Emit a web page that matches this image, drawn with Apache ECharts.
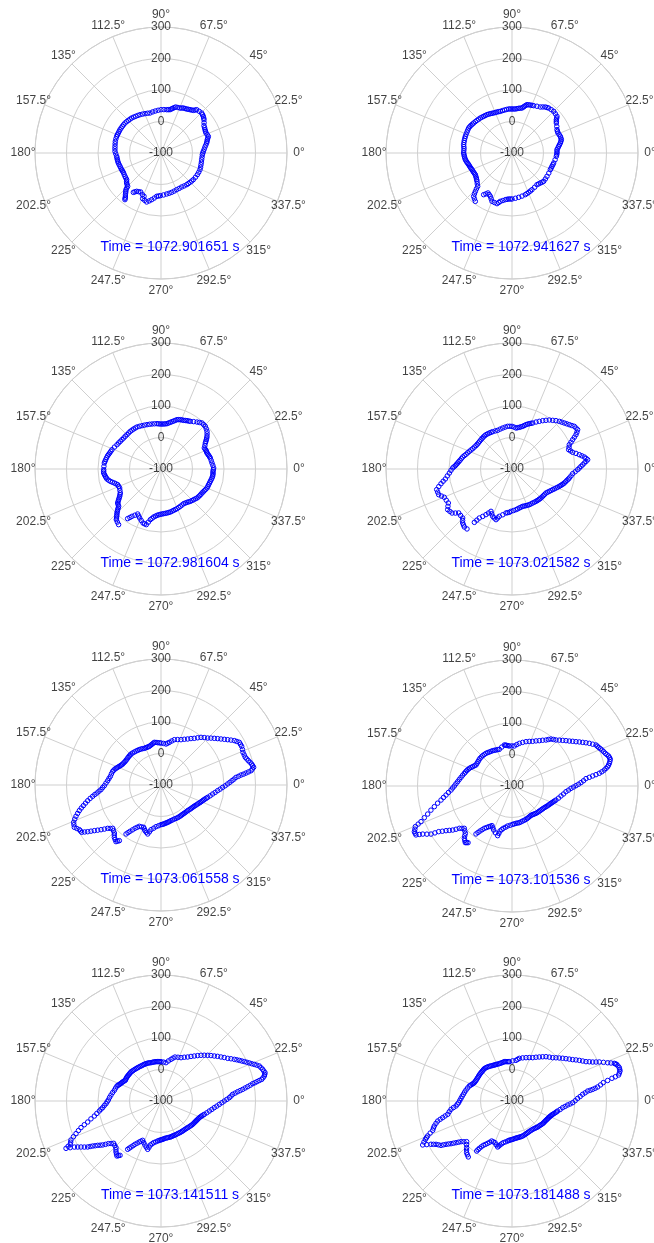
<!DOCTYPE html>
<html>
<head>
<meta charset="utf-8">
<script src="https://cdn.jsdelivr.net/npm/echarts@6/dist/echarts.min.js"></script>
<style>
html,body{margin:0;padding:0;background:#ffffff;}
#main{width:654px;height:1243px;}
</style>
</head>
<body>
<div id="main"></div>
<script>
// ---------- data ----------
const times = ['1072.901651','1072.941627','1072.981604','1073.021582','1073.061558','1073.101536','1073.141511','1073.181488'];
const angleTicks = [0,22.5,45,67.5,90,112.5,135,157.5,180,202.5,225,247.5,270,292.5,315,337.5];
const angleTickLabels = ['0°','22.5°','45°','67.5°','90°','112.5°','135°','157.5°','180°','202.5°','225°','247.5°','270°','292.5°','315°','337.5°'];
const radiusTicks = [-100,0,100,200,300];
const radiusTickLabels = ['-100','0','100','200','300'];

// each curve: [angle (deg), value]
const curve1 = [[234.9,52.7],[236.2,48.4],[237.6,44.1],[240,41.9],[242.5,39.6],[246,45],[248.6,47.7],[248.1,56.2],[251,59],[253.7,62],[256.2,56.6],[258.7,51.1],[261.5,44.6],[264.3,38.2],[266.7,36.8],[269.1,35.4],[273.5,33.4],[277.9,31.4],[281.5,30.4],[285.2,29.4],[289.1,28],[293.1,26.6],[297.2,26.4],[301.3,26.3],[305.1,27.8],[309,29.4],[311.8,30.1],[314.7,30.9],[317.6,32],[320.5,33],[324.8,33.7],[329.2,34.3],[333,34.5],[336.9,34.6],[340.3,33.5],[343.7,32.3],[347.2,31.5],[350.7,30.8],[354.2,31],[357.7,31.3],[0,32.9],[2.3,34.5],[5,37.7],[7.8,40.9],[10.1,44.6],[12.4,48.4],[14.2,50.7],[16.1,53],[17.7,56.1],[19.4,59.3],[21.7,57.8],[24,56.3],[26,57.2],[27.9,58.1],[30.1,59.9],[32.4,61.7],[35.1,67.2],[37.8,72.7],[39.3,75.2],[40.9,77.7],[42.7,79.3],[44.5,81],[47.5,79.5],[50.5,78.1],[51.6,74],[52.8,69.9],[54.5,67.7],[56.2,65.5],[58,63.6],[59.7,61.7],[61.6,60.5],[63.6,59.4],[65.3,57.2],[67.1,55],[69.7,54.1],[72.3,53.2],[73.8,49.8],[75.4,46.5],[76.8,43.5],[78.3,40.5],[80.4,39.6],[82.5,38.7],[86.2,38.1],[90,37.5],[93.8,36],[97.7,34.5],[101.5,33.1],[105.4,31.7],[108.7,33.2],[112.1,34.8],[115.4,36.7],[118.7,38.7],[121.6,40.1],[124.6,41.5],[127.3,43.2],[130,44.9],[132.5,45.7],[135,46.6],[137.6,47.6],[140.2,48.7],[142.8,48.9],[145.4,49.1],[147.9,49.4],[150.4,49.7],[152.6,49.6],[154.9,49.6],[157.1,50],[159.4,50.3],[162.5,50],[165.7,49.6],[168.7,48.5],[171.8,47.5],[174.8,46.8],[177.9,46.1],[181.1,43.6],[184.3,41.1],[186.5,40.6],[188.7,40.2],[191,39.6],[193.2,39.1],[195.6,37.9],[198,36.8],[200.5,36.2],[203,35.6],[205.1,35],[207.2,34.4],[210.1,35.3],[213,36.2],[215.4,37.1],[217.8,38],[219.4,41.3],[221.1,44.7],[223,47.1],[225,49.6],[225.6,55.2],[226.3,60.9],[227.4,65.1],[228.5,69.4],[229.7,74.6],[231,79.8],[231.6,83.4],[232.3,87.1]];
const curve2 = [[235.8,60],[237.4,54],[239,48],[241.2,50.8],[243.4,53.7],[245.5,59.8],[247.5,66],[250.5,66.8],[253.5,67.7],[255,62.7],[256.4,57.8],[259.1,53.7],[261.9,49.6],[263.9,48],[265.9,46.4],[268,46.2],[270,46],[274.3,44.1],[278.6,42.3],[283.1,40.5],[287.7,38.8],[290.3,37.2],[293,35.6],[295.8,34.1],[298.6,32.6],[303.4,30.3],[308.3,28],[310.8,29.5],[313.4,31],[315.8,33],[318.2,34.9],[322.2,34.2],[326.3,33.5],[331.4,33.1],[336.5,32.7],[339,33.2],[341.6,33.8],[344,34.9],[346.5,36],[351.1,38.5],[355.7,41.1],[357.8,42],[0,42.8],[2.1,43],[4.2,43.2],[6.1,46.4],[8.1,49.6],[9.9,53.1],[11.7,56.7],[13.4,59.5],[15.1,62.2],[17,62.3],[19,62.3],[21.2,60.7],[23.5,59.2],[25.4,60],[27.4,60.9],[30.7,65.4],[34.1,69.9],[35.5,73],[36.9,76],[38,80.1],[39.2,84.2],[42.1,85.6],[45,87.1],[47.9,85.6],[50.8,84.2],[52.4,82.2],[54.1,80.3],[56.2,75.9],[58.4,71.5],[61.9,68.3],[65.4,65.2],[67.2,64.1],[69.1,63],[71,61.8],[72.8,60.6],[74,56.9],[75.2,53.2],[76.3,49.7],[77.5,46.3],[79.5,44.8],[81.5,43.4],[83.6,41.7],[85.7,40.1],[87.8,39.9],[90,39.7],[92.1,39.9],[94.3,40.1],[97,39.3],[99.7,38.5],[102.6,37.9],[105.6,37.3],[107.8,37.9],[110.1,38.6],[112.3,39.1],[114.6,39.7],[116.7,41.1],[118.8,42.5],[121,43.9],[123.1,45.3],[125.4,46.2],[127.7,47.1],[129.9,48.4],[132.1,49.8],[134.5,50.8],[137,51.9],[139.5,53.2],[142,54.5],[144,55.7],[146,57],[148,57.9],[150,58.8],[152.5,58.2],[155,57.6],[157.7,57.5],[160.3,57.3],[162.7,56.9],[165.1,56.6],[167.6,56.1],[170.2,55.7],[172.5,54.3],[174.8,53],[177.4,53.2],[180,53.4],[182,52.5],[184,51.6],[186,50.6],[188.1,49.6],[189.9,47.7],[191.7,45.9],[193.4,44.1],[195.1,42.4],[197,41.1],[199,39.9],[200.8,38.7],[202.6,37.5],[204.7,36.9],[206.8,36.3],[208.7,35.7],[210.6,35.2],[212.8,36.7],[215,38.3],[217,40.6],[219,42.9],[221.6,47.4],[224.2,51.9],[225.2,60.1],[226.3,68.3],[227.4,76],[228.5,83.7],[230.6,88.1],[232.8,92.6]];
const curve3 = [[236.1,89.8],[237.3,83],[238.5,76.2],[240.5,68.5],[242.6,60.9],[244.5,65.2],[246.5,69.6],[249,75.1],[251.6,80.7],[253.4,81.7],[255.2,82.7],[256.6,73.5],[258.1,64.3],[259.7,59.2],[261.3,54.2],[263.2,50.9],[265.1,47.6],[267.1,45.7],[269.2,43.9],[271.3,42.9],[273.4,42],[275.6,41.4],[277.8,40.9],[280,40.3],[282.2,39.7],[284.6,38.4],[287,37.2],[289.5,36.4],[292,35.7],[294.7,34.5],[297.4,33.4],[300.3,32.4],[303.2,31.5],[305.6,32.8],[308,34.2],[310.1,36.4],[312.2,38.6],[314.5,40.4],[316.8,42.2],[319,44.4],[321.1,46.7],[323.2,47.9],[325.4,49.1],[327.5,50],[329.7,50.8],[331.5,52.3],[333.4,53.8],[335.5,55.9],[337.6,58],[339.7,58.6],[341.8,59.2],[343.9,60.3],[346,61.4],[348,62.9],[350,64.4],[351.9,65.2],[353.8,66],[355.6,65.6],[357.4,65.2],[359.2,66.2],[1.1,67.2],[3.9,65.1],[6.7,63],[9.6,61.7],[12.6,60.4],[14.3,58.9],[16,57.4],[17.6,56],[19.2,54.6],[20.8,54.6],[22.5,54.7],[24.2,53.8],[25.9,52.9],[28.1,58],[30.4,63.1],[31.6,67.2],[32.9,71.4],[34.1,75.2],[35.4,79.1],[37.3,83.9],[39.3,88.7],[41.6,92],[43.9,95.3],[46.1,95.4],[48.3,95.6],[50.4,91.7],[52.5,87.9],[55.4,82.7],[58.4,77.6],[60,75.9],[61.7,74.2],[63.3,72.3],[65,70.4],[66.8,69.3],[68.6,68.2],[70.3,66.4],[72,64.6],[73.6,61],[75.2,57.5],[76.9,54.3],[78.7,51.1],[80.6,48.1],[82.5,45.2],[84.5,44.1],[86.6,43.1],[88.7,42.9],[90.8,42.8],[92.9,43.6],[95,44.4],[98.1,45],[101.3,45.7],[104.4,46.6],[107.5,47.6],[110.6,48.9],[113.7,50.2],[116.7,51.8],[119.7,53.5],[122,53.6],[124.3,53.8],[126.7,54],[129.2,54.2],[131.9,53.8],[134.7,53.4],[137.5,53.7],[140.3,54],[143,55.1],[145.8,56.2],[148.4,57.9],[151.1,59.6],[154.8,63.4],[158.5,67.2],[160.6,68.9],[162.7,70.7],[164.3,72.6],[166,74.5],[168.2,76.3],[170.4,78.1],[172.2,79.5],[174,80.9],[177.3,81.4],[180.7,82],[182.3,82.2],[184,82.4],[185.7,80.3],[187.5,78.2],[189,76.3],[190.5,74.4],[192.1,70],[193.7,65.5],[195.2,60.1],[196.7,54.7],[198.3,50.4],[199.9,46.2],[202.3,45.3],[204.7,44.4],[207.6,47.1],[210.5,49.9],[212,53.6],[213.5,57.3],[214.7,61.6],[215.9,65.9],[217,70.3],[218.1,74.8],[219.7,77],[221.4,79.1],[222.3,83.8],[223.2,88.6],[224.1,93],[225,97.5],[226,101.7],[226.9,105.9],[227.8,110.1],[228.6,114.4],[230.6,118.2],[232.7,122]];
const curve4 = [[234.8,107.3],[235.5,97.1],[236.3,87],[238.3,76.9],[240.3,66.8],[241.9,58.4],[243.6,50],[245.7,56.1],[247.8,62.3],[250.1,65.4],[252.5,68.6],[253.7,62],[255,55.5],[258.6,48.2],[262.2,40.9],[264.3,39.3],[266.5,37.8],[268.6,34.4],[272.1,32],[275.6,29.7],[278.1,27.8],[280.6,25.9],[283.2,24.6],[285.9,23.3],[288.4,23.9],[290.9,24.5],[293.4,25.2],[295.9,25.9],[298.6,26.1],[301.3,26.3],[303.9,27],[306.6,27.8],[308.8,28.4],[311,29],[313,29.5],[315,30.1],[317.3,30.3],[319.6,30.6],[322.2,31.3],[324.8,32.1],[327,35.1],[329.1,38.1],[331.1,41.4],[333.1,44.8],[334.8,48.4],[336.6,52.1],[338.2,56],[339.9,60],[341.2,63.1],[342.6,66.3],[343.8,69.1],[345,71.9],[346.7,75.1],[348.4,78.3],[349.7,81.2],[351.1,84.2],[353.3,88.6],[355.6,93.1],[357.5,100.7],[359.4,108.4],[0.8,113.8],[2.2,119.2],[3.4,124.7],[4.7,130.3],[5.8,136.1],[7,142],[8.2,137.4],[9.4,132.8],[10.7,125.6],[12,118.5],[13.7,109.1],[15.4,99.7],[17.1,94.8],[18.8,90],[20.9,93.8],[23,97.6],[24.4,105.7],[25.8,113.9],[27,122.2],[28.2,130.5],[29.5,136.7],[30.9,142.9],[32.6,141.3],[34.4,139.7],[36,134.8],[37.7,130],[39.5,125.5],[41.3,121.1],[43.2,117.1],[45.2,113.2],[47.7,107.5],[50.1,101.3],[52.7,95.5],[55.1,88.4],[57.6,81.7],[60.2,74.4],[62.9,67.5],[65.8,60.1],[67.4,57],[69.1,54],[70.8,50.8],[72.5,47.6],[74.2,43.6],[76,39.6],[78,36.9],[80,34.3],[82.2,32.5],[84.4,30.8],[87.2,33.1],[90,35.4],[92.9,35.8],[95.8,36.2],[99.3,34.8],[102.8,33.4],[106.5,32.1],[110.3,30.9],[113.8,32.1],[117.4,33.4],[119.8,34.2],[122.2,35],[124.6,35.8],[127.1,36.7],[129.5,36.5],[131.9,36.4],[134.2,35.9],[136.6,35.4],[139.4,35.2],[142.3,35],[144.6,35.6],[147,36.2],[149.8,38.3],[152.7,40.5],[155.1,43.5],[157.5,46.5],[159.9,49.8],[162.3,53.2],[164.3,57.1],[166.3,61.1],[168.4,64.2],[170.5,67.4],[172.1,70.4],[173.7,73.5],[175.1,76.8],[176.6,80.2],[177.8,84.2],[179,88.3],[181.3,93.8],[183.7,99.3],[186.1,106.6],[188.5,113.9],[190.1,122],[191.7,130.1],[193.5,139],[195.3,147.9],[197.3,147.2],[199.3,146.6],[201,139.7],[202.7,132.9],[205.4,131],[208.1,129.1],[210.2,135.3],[212.3,141.5],[214.3,138.8],[216.3,136.1],[217.9,127.7],[219.5,119.4],[222.1,120],[224.8,120.7],[226.2,126.4],[227.6,132.1],[229.1,135.2],[230.6,138.3],[233.1,138]];
const curve5 = [[234.5,91.1],[236.2,76.9],[239,60.4],[242.3,48.1],[247.7,45.2],[250.7,53.6],[254.8,61.1],[257.4,45.3],[263.2,33.2],[270,25.9],[273.9,24.1],[277.5,21.7],[281.2,19.8],[285.7,17.5],[291.4,16],[297,16.4],[302,16],[306.4,15.7],[310.9,16.3],[316.1,17.4],[320.7,20.3],[324.8,22.9],[328.7,26.3],[332.6,31.1],[336.2,36.4],[339.4,41.2],[342.3,46.5],[345.2,53.2],[350.1,66.4],[354.3,80.7],[357.8,95.8],[0.9,111.6],[3.5,125.8],[5.8,139.3],[7.1,155.9],[8,172.4],[9,189.3],[10.8,199.4],[13,195.4],[15.6,187.8],[18.2,181.7],[21.7,180.2],[25.6,184],[28.6,183.1],[31.2,172],[34.2,155.9],[37.5,140],[41.2,124.9],[45.2,110.2],[50,97.5],[54.5,82],[59.9,68.8],[66.2,57.2],[73.6,50],[78.9,38],[83,31.1],[90,33.3],[94.5,34.8],[98.9,37.1],[102.5,32.3],[106.8,28.2],[110.4,27.6],[114.4,27.8],[119.1,30.7],[123.9,32.7],[128.9,34.7],[134.1,36.9],[138.1,36.4],[142.6,35.8],[147,36.2],[151.3,38.7],[154.6,42.9],[157.8,48.5],[160.8,54.6],[164.2,59.4],[170.3,63.1],[175.4,69.8],[180.7,79.9],[184.4,91],[187.1,104.7],[189.4,119.9],[192.1,138],[194.9,155.1],[197.4,171.7],[200.2,187.6],[203.1,201.4],[206,206.2],[208.7,195.4],[210.8,193.2],[212.5,175.9],[214.4,156.5],[216.7,137.4],[219.1,118.2],[221.9,106],[225.8,112.5],[228.3,122.6],[231.5,129.7],[233.2,120.7],
  [235.3,84],[237.6,68.6],[240.6,54.2],[245,46.6],[249.2,49.4],[252.7,57.3],[256.1,53.2],[260.3,39.2],[266.6,29.5],[272,25],[275.7,22.9],[279.3,20.7],[283.4,18.6],[288.5,16.7],[294.2,16.2],[299.5,16.2],[304.2,15.8],[308.6,16],[313.5,16.8],[318.4,18.8],[322.7,21.6],[326.7,24.6],[330.6,28.7],[334.4,33.7],[337.8,38.8],[340.8,43.8],[343.7,49.8],[347.6,59.8],[352.2,73.5],[356,88.2],[359.3,103.7],[2.2,118.7],[4.6,132.5],[6.4,147.6],[7.5,164.1],[8.5,180.8],[9.9,194.3],[11.9,197.4],[14.3,191.6],[16.9,184.7],[19.9,180.9],[23.6,182.1],[27.1,183.5],[29.9,177.5],[32.7,163.9],[35.8,147.9],[39.3,132.4],[43.2,117.5],[47.6,103.8],[52.2,89.7],[57.2,75.4],[63,63],[69.9,53.6],[76.2,44],[81,34.5],[86.5,32.2],[92.2,34],[96.7,36],[100.7,34.7],[104.6,30.2],[108.6,27.9],[112.4,27.7],[116.7,29.2],[121.5,31.7],[126.4,33.7],[131.5,35.8],[136.1,36.6],[140.3,36.1],[144.8,36],[149.1,37.4],[153,40.8],[156.2,45.7],[159.3,51.5],[162.5,57],[167.2,61.2],[172.8,66.4],[178,74.8],[182.5,85.4],[185.7,97.8],[188.2,112.3],[190.7,128.9],[193.5,146.5],[196.1,163.4],[198.8,179.6],[201.6,194.5],[204.5,203.8],[207.3,200.8],[209.7,194.3],[211.6,184.5],[213.4,166.2],[215.5,146.9],[217.9,127.8],[220.5,112.1],[223.8,109.2],[227,117.5],[229.9,126.1],[232.3,125.2]];
const curve6 = [[233.1,90.4],[234.6,75.3],[236.8,60.5],[240.2,48.9],[243.2,41],[247.4,51.3],[253.9,64.1],[255.1,47.8],[258.4,37.1],[263.8,27.7],[271,21.7],[276.1,19.1],[281.3,18.7],[287,16.2],[292.8,14.8],[298,12.7],[302.9,10.9],[307,12.6],[311.3,15.4],[316.1,17.4],[320.4,19.5],[324.5,22.1],[328.7,26.3],[332.6,31.1],[336,35.4],[339.2,40.3],[342.3,46.5],[348.5,58.7],[354,72.3],[357.7,87.4],[0.3,103.1],[2.8,119.2],[5.7,136],[7.1,158],[8.3,180.1],[9.8,197.4],[11.4,209.8],[13.1,217.2],[15.2,223.4],[17.2,221.2],[19.3,213.9],[21.8,207.7],[24,201.2],[26,196.7],[28.9,180.4],[31.7,163.7],[34.7,147.1],[38.1,131.3],[42,116.5],[46.3,102.1],[50.3,93.8],[53.5,81.6],[58.9,68],[65.2,56.2],[72.5,47.6],[80.2,37.4],[86.7,27.2],[93.8,27.3],[97.5,30.1],[100.6,32.4],[109.1,23.2],[114,25.1],[118.7,27.8],[123.7,29.7],[128.5,32.6],[134,33.9],[139.2,34.3],[144.4,32.7],[149.7,32.3],[153.8,39.1],[157.5,46.5],[161.3,51.9],[165.1,56.6],[170.4,64.2],[175.4,73],[180,83],[183.8,94],[187.8,111.4],[191.2,129.7],[194.9,155.1],[198.4,182.1],[201.4,210.2],[202.8,232.9],[205.1,242.2],[207,242.1],[208.3,221.9],[210.7,198.9],[211.9,174.2],[214.1,153],[216.6,134.5],[218.8,114.5],[221.6,102.4],[225.4,111],[227.7,124.7],[230.5,133],[232.2,127.7],
  [233.8,82.8],[235.7,67.9],[238.5,54.7],[241.7,45],[245.3,46.1],[250.6,57.7],[254.5,56],[256.7,42.4],[261.1,32.4],[267.4,24.7],[273.5,20.4],[278.7,18.9],[284.1,17.4],[289.9,15.5],[295.4,13.7],[300.4,11.8],[305,11.7],[309.1,14],[313.7,16.4],[318.2,18.4],[322.4,20.8],[326.6,24.2],[330.6,28.7],[334.3,33.2],[337.6,37.8],[340.7,43.4],[345.4,52.6],[351.2,65.5],[355.8,79.8],[359,95.2],[1.5,111.1],[4.2,127.6],[6.4,147],[7.7,169],[9,188.7],[10.6,203.6],[12.2,213.5],[14.1,220.3],[16.2,222.3],[18.2,217.5],[20.5,210.8],[22.9,204.4],[25,198.9],[27.4,188.5],[30.3,172],[33.2,155.4],[36.4,139.2],[40,123.9],[44.1,109.3],[48.3,97.9],[51.9,87.7],[56.2,74.8],[62,62.1],[68.8,51.9],[76.3,42.5],[83.4,32.3],[90.2,27.2],[95.6,28.7],[99,31.2],[104.8,27.8],[111.5,24.1],[116.3,26.4],[121.2,28.7],[126.1,31.1],[131.2,33.2],[136.6,34.1],[141.8,33.5],[147,32.5],[151.7,35.7],[155.6,42.8],[159.4,49.2],[163.2,54.2],[167.7,60.4],[172.9,68.6],[177.7,78],[181.9,88.5],[185.8,102.7],[189.5,120.5],[193,142.4],[196.6,168.6],[199.9,196.1],[202.1,221.5],[204,237.5],[206,242.1],[207.6,232],[209.5,210.4],[211.3,186.5],[213,163.6],[215.3,143.7],[217.7,124.5],[220.2,108.4],[223.5,106.7],[226.5,117.8],[229.1,128.8],[231.3,130.3]];
const curve7 = [[235.4,86.3],[236.9,74.4],[239,60.4],[242.1,47.2],[245,37.8],[250,48.6],[254.6,59.1],[256.4,43.7],[260,34.3],[265.2,27.4],[269,23.8],[272.5,21.8],[276.1,19.1],[280.3,18.3],[284.5,18.1],[288.4,17.1],[292.4,16.7],[297,16.4],[301.7,16.9],[305.8,17.4],[310.3,17.9],[315,19.7],[319.6,22.3],[323.6,24.8],[327,26.2],[330.3,27.9],[333.4,30.1],[336.5,32.7],[339.8,37.5],[342.9,43.9],[348.3,56.7],[352.9,70.5],[356.7,85.5],[0,101],[2.8,117.1],[5.3,128.4],[6.9,145.1],[8.1,161.9],[9.4,178.8],[10.7,196.1],[11.4,210.8],[12.1,226.8],[13.6,237.4],[15.2,242.2],[17.3,238],[19.6,231.3],[21.4,218.2],[23.3,205.2],[25.3,192.5],[27.4,180.2],[29.6,167.7],[32.6,151.3],[36.3,136.1],[40.2,121.4],[44.4,107.3],[48.8,92.7],[53.5,77.7],[58.8,63.3],[65.2,51.5],[72.3,46.5],[76.5,36],[82.6,22.7],[90,24.8],[93.4,25.1],[97.2,25.8],[100.6,25.9],[104.6,25.7],[108.4,27.2],[111.9,27.7],[115.5,27.8],[119.7,27.9],[123.9,28.9],[127.7,29.7],[132.1,31.1],[136,32.5],[139.5,32],[143.1,32.3],[146.4,32],[149.9,30.9],[153,35.3],[156.2,38.8],[158.7,43],[161.2,47.6],[167.1,51.9],[173.2,59.9],[178.9,67.2],[182.8,74.8],[186.5,86.3],[189.2,98.3],[192.7,116.9],[196,142.1],[198.4,167.7],[201,189],[203.4,211.4],[205.5,219],[206.5,236.9],[208,211.5],[209.9,192.9],[212.1,174.8],[213.4,159.7],[215,145.4],[217,131.9],[219,115.1],[221.8,101.5],[226,105.8],[228.6,115.9],[231.3,123.6],[233,116],
  [236.1,80.4],[238,67.4],[240.5,53.8],[243.5,42.5],[247.5,43.2],[252.3,53.9],[255.5,51.4],[258.2,39],[262.6,30.9],[267.1,25.6],[270.7,22.8],[274.3,20.5],[278.2,18.7],[282.4,18.2],[286.5,17.6],[290.4,16.9],[294.7,16.6],[299.4,16.7],[303.8,17.2],[308,17.7],[312.6,18.8],[317.3,21],[321.6,23.6],[325.3,25.5],[328.6,27],[331.8,29],[335,31.4],[338.2,35.1],[341.4,40.7],[345.6,50.3],[350.6,63.6],[354.8,78],[358.4,93.3],[1.4,109.1],[4,122.8],[6.1,136.8],[7.5,153.5],[8.8,170.4],[10,187.5],[11,203.5],[11.8,218.8],[12.8,232.1],[14.4,239.8],[16.2,240.1],[18.4,234.7],[20.5,224.8],[22.3,211.7],[24.3,198.9],[26.3,186.4],[28.5,174],[31.1,159.5],[34.5,143.7],[38.3,128.8],[42.3,114.4],[46.6,100],[51.1,85.2],[56.1,70.5],[62,57.4],[68.8,49],[74.4,41.3],[79.5,29.4],[86.3,23.8],[91.7,25],[95.3,25.5],[98.9,25.9],[102.6,25.8],[106.5,26.5],[110.2,27.5],[113.7,27.8],[117.6,27.9],[121.8,28.4],[125.8,29.3],[129.9,30.4],[134,31.8],[137.8,32.3],[141.3,32.2],[144.8,32.2],[148.2,31.5],[151.5,33.1],[154.6,37.1],[157.5,40.9],[160,45.3],[164.1,49.8],[170.1,55.9],[176,63.6],[180.8,71],[184.6,80.6],[187.8,92.3],[191,107.6],[194.3,129.5],[197.2,154.9],[199.7,178.4],[202.2,200.2],[204.5,215.2],[206,228],[207.2,224.2],[208.9,202.2],[211,183.9],[212.7,167.3],[214.2,152.6],[216,138.7],[218,123.5],[220.4,108.3],[223.9,103.7],[227.3,110.9],[230,119.8],[232.1,119.8]];
const curve8 = [[234.8,94.4],[235.4,82.5],[237.1,67.6],[240.1,55],[243.1,42.4],[247.8,42.8],[252.7,52.9],[254.7,44.7],[258.2,35.1],[263.8,27.7],[267.1,24],[271,21.7],[275.1,18.9],[278.8,17.8],[282.5,17],[287,16.2],[291.8,13.9],[296.3,12.1],[301,11.1],[306.1,11.3],[310.8,13.3],[314.6,16],[319,17.8],[323.5,21],[327,22.4],[330.4,24.1],[333.6,26.3],[336.8,29],[339.4,32.3],[341.8,35.8],[344.9,42.4],[347.6,48.3],[352.5,62.2],[355.9,77.1],[358.4,92.7],[2.3,108.6],[5.4,125.3],[7.5,142.3],[8.2,158.7],[9.3,175.5],[11.4,195.7],[12.8,225.4],[13.7,248.5],[15.5,255.8],[17.3,256.8],[19.3,252],[20.2,246.1],[21.8,227.1],[24.1,203.5],[25.8,184.4],[28,166],[31.1,149.7],[34.3,133],[38.1,117.7],[42.3,102.9],[46.8,88.6],[52.5,77.3],[58.2,64.4],[64.5,52.4],[72.1,44.5],[80.2,37.4],[84.4,29.7],[93.9,25.2],[97.2,25.8],[101,27.2],[104.6,25.7],[108.7,25.2],[112.7,26.1],[116.1,27.3],[119.5,28.9],[123.2,31.5],[127,33.7],[130.6,35.1],[134,33.9],[137.6,33.3],[141.5,32.6],[145.8,31.7],[150.1,31.7],[154,33],[157.4,37.5],[160.6,43.6],[166.6,50.1],[172.2,55.9],[177,62.1],[181.8,69.4],[185.1,78.5],[187.8,95.4],[191.7,108.5],[193.5,126.3],[195.1,144.3],[197.8,159],[200.3,168.4],[202.5,189.8],[203.9,200.8],[206.2,216],[208.1,191.6],[209.7,177.7],[212,165.7],[213.3,150.6],[215,136.3],[216.7,121.5],[218.6,107.1],[221.9,93.3],[225.8,106.5],[228.7,118.2],[232,125.4],
  [235.1,88.5],[236.2,75],[238.6,61.3],[241.6,48.7],[245.4,42.6],[250.2,47.8],[253.7,48.8],[256.4,39.9],[261,31.4],[265.4,25.8],[269,22.8],[273,20.3],[276.9,18.3],[280.6,17.4],[284.7,16.6],[289.4,15],[294,13],[298.6,11.6],[303.5,11.2],[308.4,12.3],[312.7,14.6],[316.8,16.9],[321.2,19.4],[325.2,21.7],[328.7,23.2],[332,25.2],[335.2,27.6],[338.1,30.6],[340.6,34],[343.3,39.1],[346.2,45.3],[350,55.2],[354.2,69.6],[357.1,84.9],[0.3,100.6],[3.8,117],[6.4,133.8],[7.8,150.5],[8.7,167.1],[10.3,185.6],[12.1,210.5],[13.2,237],[14.6,252.1],[16.4,256.3],[18.3,254.4],[19.7,249],[21,236.6],[22.9,215.3],[24.9,194],[26.9,175.2],[29.5,157.8],[32.7,141.3],[36.2,125.3],[40.2,110.3],[44.5,95.7],[49.6,83],[55.3,70.8],[61.3,58.4],[68.3,48.4],[76.1,41],[82.3,33.5],[89.1,27.4],[95.5,25.5],[99.1,26.5],[102.8,26.4],[106.6,25.4],[110.7,25.6],[114.4,26.7],[117.8,28.1],[121.3,30.2],[125.1,32.6],[128.8,34.4],[132.3,34.5],[135.8,33.6],[139.5,32.9],[143.6,32.1],[147.9,31.7],[152,32.3],[155.7,35.2],[159,40.5],[163.6,46.8],[169.4,53],[174.6,59],[179.4,65.7],[183.4,73.9],[186.4,87],[189.7,102],[192.6,117.4],[194.3,135.3],[196.4,151.6],[199,163.7],[201.4,179.1],[203.2,195.3],[205,208.4],[207.1,203.8],[208.9,184.6],[210.8,171.7],[212.6,158.1],[214.1,143.4],[215.8,128.9],[217.6,114.3],[220.2,100.2],[223.8,99.9],[227.2,112.3],[230.3,121.8]];

const curves = [curve1, curve2, curve3, curve4, curve5, curve6, curve7, curve8];

// ---------- layout / style ----------
const centers = [[161,153],[512,153],[161,469],[512,469],[161,785],[512,786],[161,1101],[512,1101]];
const R = 126;
const LABEL_R = 338;
const GRID = '#cfcfcf';
const TXT = '#111111';
const BLUE = '#0000ff';
const FONT = '"Liberation Sans", Arial, Helvetica, sans-serif';

const chart = echarts.init(document.getElementById('main'), null, {renderer: 'canvas'});

const polar = centers.map(c => ({center: c, radius: R}));
const angleAxis = centers.map((c, i) => ({
  polarIndex: i, type: 'value', min: 0, max: 360, interval: 22.5,
  startAngle: 0, clockwise: false,
  axisLine: {show: true, lineStyle: {color: GRID, width: 1}},
  axisTick: {show: false},
  axisLabel: {show: false},
  splitLine: {show: true, lineStyle: {color: GRID, width: 1}}
}));
const radiusAxis = centers.map((c, i) => ({
  polarIndex: i, type: 'value', min: -100, max: 300, interval: 100,
  axisLine: {show: false}, axisTick: {show: false}, axisLabel: {show: false},
  splitLine: {show: true, lineStyle: {color: GRID, width: 1}}
}));

const series = [];
curves.forEach((cv, i) => {
  series.push({
    type: 'scatter', coordinateSystem: 'polar', polarIndex: i,
    data: cv.map(p => [p[1], p[0]]),
    symbol: 'circle', symbolSize: 4.5,
    itemStyle: {color: 'rgba(0,0,0,0)', borderColor: BLUE, borderWidth: 1, opacity: 1},
    silent: true, z: 5
  });
  series.push({
    type: 'scatter', coordinateSystem: 'polar', polarIndex: i, clip: false,
    data: angleTicks.map(a => [LABEL_R, a]),
    symbol: 'circle', symbolSize: 1, itemStyle: {color: 'rgba(0,0,0,0)'},
    label: {show: true, position: 'inside', formatter: p => angleTickLabels[p.dataIndex],
            color: TXT, fontSize: 12, fontFamily: FONT},
    silent: true, z: 3
  });
  series.push({
    type: 'scatter', coordinateSystem: 'polar', polarIndex: i, clip: false,
    data: radiusTicks.map(v => [v, 90]),
    symbol: 'circle', symbolSize: 1, itemStyle: {color: 'rgba(0,0,0,0)'},
    label: {show: true, position: 'inside', formatter: p => radiusTickLabels[p.dataIndex],
            color: TXT, fontSize: 12, fontFamily: FONT},
    silent: true, z: 3
  });
});

const title = times.map((t, i) => ({
  text: 'Time = ' + t + ' s',
  left: centers[i][0] + 9, top: centers[i][1] + 94,
  textAlign: 'center', textVerticalAlign: 'middle', padding: 0,
  textStyle: {color: BLUE, fontSize: 14, fontWeight: 'normal', fontFamily: FONT}
}));

chart.setOption({
  animation: false,
  backgroundColor: '#ffffff',
  title: title,
  polar: polar,
  angleAxis: angleAxis,
  radiusAxis: radiusAxis,
  series: series
});
</script>
</body>
</html>
